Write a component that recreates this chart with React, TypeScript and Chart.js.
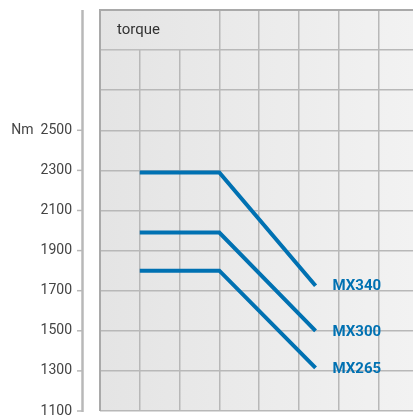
import React, { useEffect, useRef } from 'react';
import { Chart, registerables } from 'chart.js';

Chart.register(...registerables);

// ---- data ----
const xPoints = [1, 3, 5.42];
const seriesNames = ['MX340', 'MX300', 'MX265'];
const mx340 = [2290, 2290, 1725];
const mx300 = [1990, 1990, 1500];
const mx265 = [1800, 1800, 1315];
const yMin = 1100;
const yMax = 3100;
const yStep = 200;
const yLabelMax = 2500;
const xMin = 0;
const xMax = 7.87;
const headerLabel = 'torque';
const unitLabel = 'Nm';

const seriesValues = [mx340, mx300, mx265];
const lineColor = '#0071b2';

function makeBg(ctx: CanvasRenderingContext2D, a: any) {
  const g = ctx.createLinearGradient(a.left, 0, a.right, 0);
  g.addColorStop(0, '#e4e4e4');
  g.addColorStop(1, '#f2f2f2');
  return g;
}

const decor = {
  id: 'decor',
  beforeDraw(chart: any) {
    const { ctx, chartArea: a } = chart;
    ctx.save();
    ctx.fillStyle = makeBg(ctx, a);
    ctx.fillRect(a.left, a.top, a.right - a.left, a.bottom - a.top);
    ctx.restore();
  },
  beforeDatasetsDraw(chart: any) {
    const { ctx, chartArea: a, scales } = chart;
    const x = scales.x;
    const y = scales.y;
    ctx.save();
    // header box
    const hx2 = x.getPixelForValue(3);
    const hy2 = y.getPixelForValue(2900);
    ctx.fillStyle = makeBg(ctx, a);
    ctx.fillRect(a.left + 1, a.top + 1, hx2 - a.left - 2, hy2 - a.top - 2);
    ctx.fillStyle = '#333333';
    ctx.font = '15px Roboto';
    ctx.textBaseline = 'middle';
    ctx.textAlign = 'left';
    ctx.fillText(headerLabel, a.left + 17, (a.top + hy2) / 2);

    // plot borders top / left
    ctx.strokeStyle = '#a9a9a9';
    ctx.lineWidth = 2;
    ctx.beginPath();
    ctx.moveTo(a.left, a.bottom);
    ctx.lineTo(a.left, a.top);
    ctx.lineTo(a.right, a.top);
    ctx.stroke();

    // separate y axis line
    const ax = a.left - 17.5;
    ctx.strokeStyle = '#b8b8b8';
    ctx.lineWidth = 2.5;
    ctx.beginPath();
    ctx.moveTo(ax, a.top);
    ctx.lineTo(ax, a.bottom + 1);
    ctx.stroke();
    ctx.lineWidth = 1.5;
    for (let v = yMin; v <= yLabelMax; v += yStep) {
      const py = y.getPixelForValue(v);
      ctx.beginPath();
      ctx.moveTo(a.left - 23, py);
      ctx.lineTo(ax, py);
      ctx.stroke();
    }
    ctx.restore();
  },
  afterDatasetsDraw(chart: any) {
    const { ctx } = chart;
    ctx.save();
    ctx.font = 'bold 15px Roboto';
    ctx.fillStyle = lineColor;
    ctx.textBaseline = 'middle';
    ctx.textAlign = 'left';
    chart.data.datasets.forEach((ds: any, i: number) => {
      const meta = chart.getDatasetMeta(i);
      const last = meta.data[meta.data.length - 1];
      ctx.fillText(ds.label, last.x + 17, last.y + 1);
    });
    ctx.restore();
  },
};

export default function App() {
  const ref = useRef<HTMLCanvasElement | null>(null);
  useEffect(() => {
    if (!ref.current) return;
    const chart = new Chart(ref.current, {
      type: 'line',
      data: {
        datasets: seriesNames.map((name, i) => ({
          label: name,
          data: xPoints.map((xv, j) => ({ x: xv, y: seriesValues[i][j] })),
          borderColor: lineColor,
          borderWidth: 4,
          pointRadius: 0,
          fill: false,
          tension: 0,
          borderCapStyle: 'butt',
        })),
      },
      options: {
        animation: false,
        responsive: false,
        layout: { autoPadding: false, padding: { top: 10, bottom: 8, left: 0, right: 0 } },
        plugins: { legend: { display: false }, tooltip: { enabled: false } },
        scales: {
          x: {
            type: 'linear',
            min: xMin,
            max: xMax,
            ticks: { display: false, stepSize: 1, includeBounds: false },
            grid: { color: '#b8b8b8', lineWidth: 1.5, drawTicks: false },
            border: { display: false },
            afterFit: (s: any) => { s.height = 0; s.paddingLeft = 0; s.paddingRight = 0; },
          },
          y: {
            type: 'linear',
            min: yMin,
            max: yMax,
            ticks: {
              stepSize: yStep,
              padding: 28,
              color: '#444444',
              font: { family: 'Roboto', size: 14, lineHeight: 1 },
              autoSkip: false,
              callback: (v: any) => {
                const n = Number(v);
                if (n > yLabelMax) return '';
                if (n === yLabelMax) return unitLabel + '  ' + n;
                return String(n);
              },
            },
            grid: { color: '#b8b8b8', lineWidth: 1.5, drawTicks: false },
            border: { display: false },
            afterFit: (s: any) => { s.width = 100; s.paddingTop = 0; s.paddingBottom = 0; },
          },
        },
      },
      plugins: [decor],
    } as any);
    return () => chart.destroy();
  }, []);
  return (
    <div style={{ position: 'absolute', left: 0, top: 0, width: 413, height: 419, background: '#fff' }}>
      <canvas ref={ref} width={413} height={419} style={{ display: 'block' }} />
    </div>
  );
}
